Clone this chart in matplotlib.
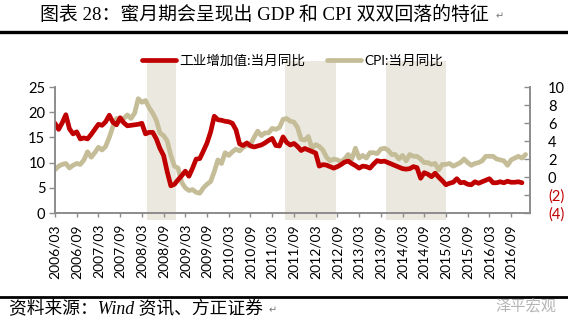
import numpy as np
import matplotlib
matplotlib.use("Agg")
import matplotlib.pyplot as plt
from matplotlib.lines import Line2D

plt.rcParams['font.family'] = ['Lato', 'Noto Sans CJK SC', 'DejaVu Sans']

# 工业增加值:当月同比, 2006/03 - 2016/12 (%)
ip = [17.8, 16.6, 17.9, 19.5, 16.7, 15.7, 16.1, 14.7, 14.9, 14.7,
      15.6, 16.6, 17.6, 17.4, 18.1, 19.4, 18.0, 17.5, 18.9, 17.9, 17.3, 17.4,
      17.5, 17.6, 17.8, 15.7, 16.0, 16.0, 14.7, 12.8, 11.4, 8.2, 5.4, 5.7,
      6.6, 7.4, 8.3, 7.3, 8.9, 10.7, 10.8, 12.3, 13.9, 16.1, 19.2, 18.5,
      18.4, 18.2, 18.1, 17.8, 16.5, 13.7, 13.4, 13.9, 13.3, 13.1, 13.3, 13.5,
      13.9, 14.4, 14.8, 13.4, 13.3, 15.1, 14.0, 13.5, 13.8, 13.2, 12.4, 12.8,
      12.5, 12.2, 11.9, 9.3, 9.6, 9.5, 9.2, 8.9, 9.2, 9.6, 10.1, 10.3,
      9.8, 9.4, 8.9, 9.3, 9.2, 8.9, 9.7, 10.4, 10.2, 10.3, 10.0, 9.7,
      9.4, 9.1, 8.8, 8.7, 8.8, 9.2, 9.0, 6.9, 8.0, 7.7, 7.2, 7.9,
      7.1, 6.4, 5.6, 5.9, 6.1, 6.8, 6.0, 6.1, 5.7, 5.6, 6.2, 5.9,
      6.2, 6.5, 6.8, 6.0, 6.0, 6.2, 6.0, 6.3, 6.1, 6.1, 6.2, 6.0]

# CPI:当月同比, 2006/03 - 2017/01 (%)
cpi = [0.8, 1.2, 1.4, 1.5, 1.0, 1.3, 1.5, 1.4, 1.9, 2.8,
       2.2, 2.7, 3.3, 3.0, 3.4, 4.4, 5.6, 6.5, 6.2, 6.5, 6.9, 6.5,
       7.1, 8.7, 8.3, 8.5, 7.7, 7.1, 6.3, 4.9, 4.6, 4.0, 2.4, 1.2,
       1.0, -0.6, -1.2, -1.5, -1.4, -1.7, -1.8, -1.2, -0.8, -0.5, 0.6, 1.9,
       1.5, 2.7, 2.4, 2.8, 3.1, 2.9, 3.3, 3.5, 3.6, 4.4, 5.1, 4.6,
       4.9, 4.9, 5.4, 5.3, 5.5, 6.4, 6.5, 6.2, 6.1, 5.5, 4.2, 4.1,
       4.5, 3.2, 3.6, 3.4, 3.0, 2.2, 1.8, 2.0, 1.9, 1.7, 2.0, 2.5,
       2.0, 3.2, 2.1, 2.4, 2.1, 2.7, 2.7, 2.6, 3.1, 3.2, 3.0, 2.5,
       2.5, 2.0, 2.4, 1.8, 2.5, 2.3, 2.3, 2.0, 1.6, 1.6, 1.4, 1.5,
       0.8, 1.4, 1.4, 1.5, 1.2, 1.4, 1.6, 2.0, 1.6, 1.3, 1.5, 1.6,
       1.8, 2.3, 2.3, 2.3, 2.0, 1.9, 1.8, 1.3, 1.9, 2.1, 2.3, 2.1,
       2.5]

xtick_labels = ["2006/03", "2006/09", "2007/03", "2007/09", "2008/03", "2008/09",
                "2009/03", "2009/09", "2010/03", "2010/09", "2011/03", "2011/09",
                "2012/03", "2012/09", "2013/03", "2013/09", "2014/03", "2014/09",
                "2015/03", "2015/09", "2016/03", "2016/09"]

# 阴影区间 (月份序号, 0 = 2006/03)
shade_start = [25.3, 63.5, 91.4]
shade_end = [33.4, 77.6, 108.0]

red = '#c00000'
tan = '#c4bd97'
grey = '#8c8c8c'

fig = plt.figure(figsize=(5.68, 3.22), dpi=100)
ax = fig.add_axes([0.0968, 0.3385, 0.8362, 0.3913])
ax2 = ax.twinx()
ax.set_zorder(ax2.get_zorder() + 1)
ax.patch.set_visible(False)

for s, e in zip(shade_start, shade_end):
    ax2.axvspan(s, e, ymin=-0.056, ymax=1.206, color='#ebe8df', lw=0,
                clip_on=False, zorder=0)

l1, = ax.plot(np.arange(len(ip)), ip, color=red, lw=3.4, solid_capstyle='round',
              label='工业增加值:当月同比')
l2, = ax2.plot(np.arange(len(cpi)), cpi, color=tan, lw=3.4, solid_capstyle='round',
               label='CPI:当月同比')

ax.set_xlim(0, 131.2)
ax.set_ylim(0, 25)
ax.set_yticks(np.arange(0, 26, 5))
ax2.set_ylim(-4, 10)
r_ticks = np.arange(-4, 11, 2)
ax2.set_yticks(r_ticks)
ax2.set_yticklabels([f"({abs(v)})" if v < 0 else f"{v}" for v in r_ticks])
for t, v in zip(ax2.get_yticklabels(), r_ticks):
    if v < 0:
        t.set_color(red)

ax.set_xticks(np.arange(0, 6 * len(xtick_labels), 6))
ax.set_xticklabels(xtick_labels, rotation=90)

for a in (ax, ax2):
    a.spines['top'].set_visible(False)
    for sp in ('left', 'right', 'bottom'):
        a.spines[sp].set_color(grey)
        a.spines[sp].set_linewidth(1.2)
ax.tick_params(axis='y', direction='out', length=4, width=1, color=grey,
               labelsize=10.5, pad=3)
ax.tick_params(axis='x', direction='out', length=3, width=1, color=grey,
               labelsize=10, pad=5)
ax2.tick_params(axis='y', direction='in', length=4, width=1, color=grey,
                labelsize=10.5, pad=13)

ax.legend(handles=[l1, l2], loc='lower center', bbox_to_anchor=(0.5, 1.12),
          ncol=2, frameon=False, fontsize=9.8, handlelength=2.5,
          handletextpad=0.25, columnspacing=1.6, borderaxespad=0)

fig.text(0.07, 0.953, "图表 28：蜜月期会呈现出 GDP 和 CPI 双双回落的特征",
         family=['Liberation Serif', 'Noto Sans CJK SC', 'DejaVu Sans'],
         fontsize=13.6, va='center', ha='left')
fig.text(0.872, 0.948, "↵", fontsize=7, color='#777777', va='center',
         family=['DejaVu Sans'])
fig.add_artist(Line2D([0, 1], [0.902, 0.902], color='black', lw=2.4))
fig.add_artist(Line2D([0, 1], [0.078, 0.078], color='black', lw=2.0))
fig.text(0.016, 0.040, "资料来源：Wind 资讯、方正证券",
         family=['Liberation Serif', 'Noto Sans CJK SC', 'DejaVu Sans'],
         style='italic', fontsize=12.8, va='center', ha='left')
fig.text(0.473, 0.036, "↵", fontsize=7, color='#777777', va='center',
         family=['DejaVu Sans'])
fig.text(0.872, 0.047, "泽平宏观", fontsize=11, color='#b5b5b5', va='center',
         ha='left', family=['Noto Sans CJK SC'])

fig.savefig('out.png', dpi=100, facecolor='white')
